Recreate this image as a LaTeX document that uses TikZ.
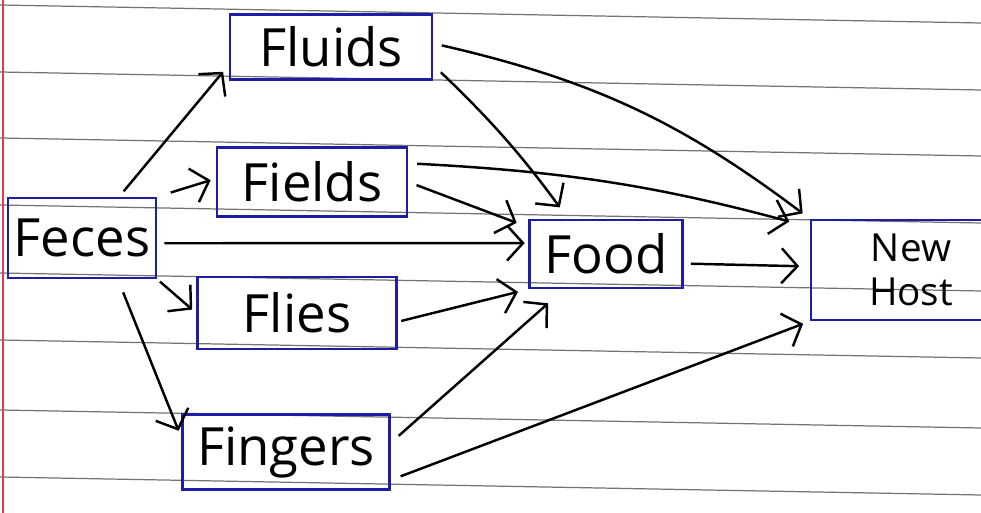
\documentclass[tikz,border=0pt]{standalone}
\usepackage{fontspec}
\setmainfont{Open Sans}
\usetikzlibrary{arrows.meta}
\definecolor{boxblue}{RGB}{30,30,165}
\definecolor{margin}{RGB}{220,60,90}

\begin{document}
\begin{tikzpicture}[x=0.02cm,y=-0.02cm,
    box/.style={draw=boxblue,line width=1.5pt,inner sep=0pt,font=\fontsize{30}{32}\selectfont},
    link/.style={-{Straight Barb[length=3.2mm,width=7mm]},line width=1.4pt,shorten >=3pt,shorten <=2pt},
    rule/.style={black!55,line width=0.7pt}]
            \useasboundingbox (0,0) rectangle (981,513);

            \foreach \y in {5,72,138,205,273,340,410,477}
                \draw[rule] (0,\y) -- (981,{\y+18});
            \draw[margin,line width=0.6pt] (3,0) -- (3,513);

            \node[box,minimum width=4.04cm,minimum height=1.3cm] (fluids) at (331,47) {Fluids};
            \node[box,minimum width=3.8cm,minimum height=1.38cm] (fields) at (312,182) {Fields};
            \node[box,minimum width=2.96cm,minimum height=1.6cm] (feces) at (82,238) {Feces};
            \node[box,minimum width=3.06cm,minimum height=1.36cm] (food) at (606,254) {Food};
            \node[box,minimum width=4cm,minimum height=2cm,align=center,font=\fontsize{22}{25}\selectfont] (newhost) at (911,270) {New\\Host};
            \node[box,minimum width=3.98cm,minimum height=1.44cm] (flies) at (297,313) {Flies};
            \node[box,minimum width=4.14cm,minimum height=1.5cm] (fingers) at (286,452) {Fingers};

            \draw[link,shorten <=4pt,shorten >=5pt] (feces.48) -- (fluids.190);
            \draw[link,shorten <=8pt] (feces.north east) -- (fields.178);
            \draw[link,shorten <=4pt,shorten >=2pt] (feces.-4) -- (food.172);
            \draw[link] (feces.south east) -- (flies.west);
            \draw[link,shorten <=8pt,shorten >=4pt] (feces.-49) -- (fingers.172);

            \draw[link,shorten <=6pt,shorten >=8pt] (fluids.-10) to[bend left=5] (food.137);
            \draw[link,shorten <=5pt,shorten >=5pt] (fluids.2) to[bend left=12] (newhost.north west);
            \draw[link,shorten <=5pt,shorten >=7pt] (fields.0) -- (food.161);
            \draw[link,shorten <=5pt,shorten >=12pt] (fields.11) to[bend left=6] (newhost.157);
            \draw[link,shorten >=6pt] (flies.-5) -- (food.south west);
            \draw[link,shorten <=4pt,shorten >=6pt] (food.-7) -- (newhost.178);
            \draw[link,shorten <=6pt,shorten >=12pt] (fingers.5) -- (food.220);
            \draw[link,shorten <=6pt,shorten >=4pt] (fingers.-15) -- (newhost.south west);
        \end{tikzpicture}
\end{document}
